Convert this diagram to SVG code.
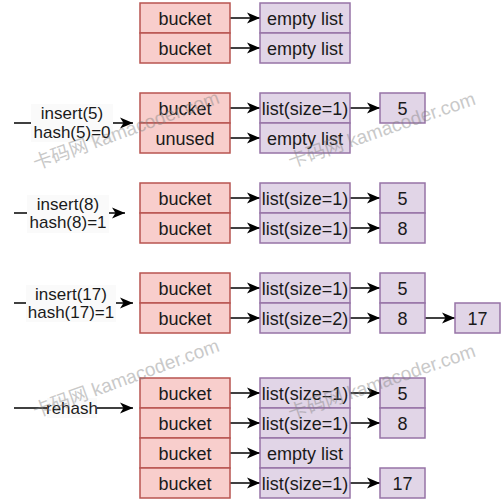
<svg xmlns="http://www.w3.org/2000/svg" width="504" height="504" viewBox="0 0 504 504">
<defs>
<marker id="ah" markerUnits="userSpaceOnUse" markerWidth="14" markerHeight="12" refX="13" refY="6" orient="auto">
<path d="M0,0.5 L13,6 L0,11.5 L3.5,6 Z" fill="#000"/>
</marker>
<style>
.b{fill:#f8cecc;stroke:#b85450;stroke-width:1.5}
.l{fill:#e1d5e7;stroke:#9673a6;stroke-width:1.5}
.t{font-family:"Liberation Sans",Arial,sans-serif;font-size:18px;fill:#1a1a1a;text-anchor:middle}
.lb{font-family:"Liberation Sans",Arial,sans-serif;font-size:17px;fill:#1a1a1a;text-anchor:middle}
.e{stroke:#000;stroke-width:1.5;fill:none;marker-end:url(#ah)}
.bg{fill:#fafafa}
.wm{font-family:"Liberation Sans","Noto Sans CJK SC",sans-serif;font-size:19px;fill:#808080;opacity:0.42}
</style>
</defs>
<rect width="504" height="504" fill="#fff"/>
<g id="connectors">
<path class="e" d="M230,18 H260"/>
<path class="e" d="M230,48 H260"/>
<path class="e" d="M230,108 H260"/>
<path class="e" d="M230,138 H260"/>
<path class="e" d="M350,108 H380"/>
<path class="e" d="M230,198 H260"/>
<path class="e" d="M230,228 H260"/>
<path class="e" d="M350,198 H380"/>
<path class="e" d="M350,228 H380"/>
<path class="e" d="M230,288 H260"/>
<path class="e" d="M230,318 H260"/>
<path class="e" d="M350,288 H380"/>
<path class="e" d="M350,318 H380"/>
<path class="e" d="M425,318 H455"/>
<path class="e" d="M230,393 H260"/>
<path class="e" d="M230,423 H260"/>
<path class="e" d="M230,453 H260"/>
<path class="e" d="M230,483 H260"/>
<path class="e" d="M350,393 H380"/>
<path class="e" d="M350,423 H380"/>
<path class="e" d="M350,483 H380"/>
<path class="e" d="M14,123 H133"/>
<path class="e" d="M14,213 H125"/>
<path class="e" d="M14,303 H133"/>
<path class="e" d="M14,408 H133"/>
<rect class="bg" x="31" y="104" width="82" height="38"/>
<text class="lb" x="72" y="119">insert(5)</text>
<text class="lb" x="72" y="137.5">hash(5)=0</text>
<rect class="bg" x="27" y="195" width="82" height="38"/>
<text class="lb" x="68" y="209.5">insert(8)</text>
<text class="lb" x="68" y="228">hash(8)=1</text>
<rect class="bg" x="26" y="285" width="90" height="37"/>
<text class="lb" x="71" y="299.5">insert(17)</text>
<text class="lb" x="71" y="317.5">hash(17)=1</text>
<rect class="bg" x="47" y="398" width="50" height="20"/>
<text class="lb" x="72" y="414">rehash</text>
</g>
<g id="g1-bucket0"><rect class="b" x="140" y="3" width="90" height="30"/><text class="t" x="185" y="24.5">bucket</text></g>
<g id="g1-bucket1"><rect class="b" x="140" y="33" width="90" height="30"/><text class="t" x="185" y="54.5">bucket</text></g>
<g id="g1-list0"><rect class="l" x="260" y="3" width="90" height="30"/><text class="t" x="305" y="24.5">empty list</text></g>
<g id="g1-list1"><rect class="l" x="260" y="33" width="90" height="30"/><text class="t" x="305" y="54.5">empty list</text></g>

<g id="g2-bucket0"><rect class="b" x="140" y="93" width="90" height="30"/><text class="t" x="185" y="114.5">bucket</text></g>
<g id="g2-bucket1"><rect class="b" x="140" y="123" width="90" height="30"/><text class="t" x="185" y="144.5">unused</text></g>
<g id="g2-list0"><rect class="l" x="260" y="93" width="90" height="30"/><text class="t" x="305" y="114.5">list(size=1)</text></g>
<g id="g2-list1"><rect class="l" x="260" y="123" width="90" height="30"/><text class="t" x="305" y="144.5">empty list</text></g>
<g id="g2-v5"><rect class="l" x="380" y="93" width="45" height="30"/><text class="t" x="402.5" y="114.5">5</text></g>

<g id="g3-bucket0"><rect class="b" x="140" y="183" width="90" height="30"/><text class="t" x="185" y="204.5">bucket</text></g>
<g id="g3-bucket1"><rect class="b" x="140" y="213" width="90" height="30"/><text class="t" x="185" y="234.5">bucket</text></g>
<g id="g3-list0"><rect class="l" x="260" y="183" width="90" height="30"/><text class="t" x="305" y="204.5">list(size=1)</text></g>
<g id="g3-list1"><rect class="l" x="260" y="213" width="90" height="30"/><text class="t" x="305" y="234.5">list(size=1)</text></g>
<g id="g3-v5"><rect class="l" x="380" y="183" width="45" height="30"/><text class="t" x="402.5" y="204.5">5</text></g>
<g id="g3-v8"><rect class="l" x="380" y="213" width="45" height="30"/><text class="t" x="402.5" y="234.5">8</text></g>

<g id="g4-bucket0"><rect class="b" x="140" y="273" width="90" height="30"/><text class="t" x="185" y="294.5">bucket</text></g>
<g id="g4-bucket1"><rect class="b" x="140" y="303" width="90" height="30"/><text class="t" x="185" y="324.5">bucket</text></g>
<g id="g4-list0"><rect class="l" x="260" y="273" width="90" height="30"/><text class="t" x="305" y="294.5">list(size=1)</text></g>
<g id="g4-list1"><rect class="l" x="260" y="303" width="90" height="30"/><text class="t" x="305" y="324.5">list(size=2)</text></g>
<g id="g4-v5"><rect class="l" x="380" y="273" width="45" height="30"/><text class="t" x="402.5" y="294.5">5</text></g>
<g id="g4-v8"><rect class="l" x="380" y="303" width="45" height="30"/><text class="t" x="402.5" y="324.5">8</text></g>
<g id="g4-v17"><rect class="l" x="455" y="303" width="45" height="30"/><text class="t" x="477.5" y="324.5">17</text></g>

<g id="g5-bucket0"><rect class="b" x="140" y="378" width="90" height="30"/><text class="t" x="185" y="399.5">bucket</text></g>
<g id="g5-bucket1"><rect class="b" x="140" y="408" width="90" height="30"/><text class="t" x="185" y="429.5">bucket</text></g>
<g id="g5-bucket2"><rect class="b" x="140" y="438" width="90" height="30"/><text class="t" x="185" y="459.5">bucket</text></g>
<g id="g5-bucket3"><rect class="b" x="140" y="468" width="90" height="30"/><text class="t" x="185" y="489.5">bucket</text></g>
<g id="g5-list0"><rect class="l" x="260" y="378" width="90" height="30"/><text class="t" x="305" y="399.5">list(size=1)</text></g>
<g id="g5-list1"><rect class="l" x="260" y="408" width="90" height="30"/><text class="t" x="305" y="429.5">list(size=1)</text></g>
<g id="g5-list2"><rect class="l" x="260" y="438" width="90" height="30"/><text class="t" x="305" y="459.5">empty list</text></g>
<g id="g5-list3"><rect class="l" x="260" y="468" width="90" height="30"/><text class="t" x="305" y="489.5">list(size=1)</text></g>
<g id="g5-v5"><rect class="l" x="380" y="378" width="45" height="30"/><text class="t" x="402.5" y="399.5">5</text></g>
<g id="g5-v8"><rect class="l" x="380" y="408" width="45" height="30"/><text class="t" x="402.5" y="429.5">8</text></g>
<g id="g5-v17"><rect class="l" x="380" y="468" width="45" height="30"/><text class="t" x="402.5" y="489.5">17</text></g>

<g id="watermarks">
<text class="wm" transform="translate(36,170) rotate(-20)">卡码网 kamacoder.com</text>
<text class="wm" transform="translate(291,168) rotate(-19)">卡码网 kamacoder.com</text>
<text class="wm" transform="translate(36,418) rotate(-20)">卡码网 kamacoder.com</text>
<text class="wm" transform="translate(291,420) rotate(-19)">卡码网 kamacoder.com</text>
</g>
</svg>
